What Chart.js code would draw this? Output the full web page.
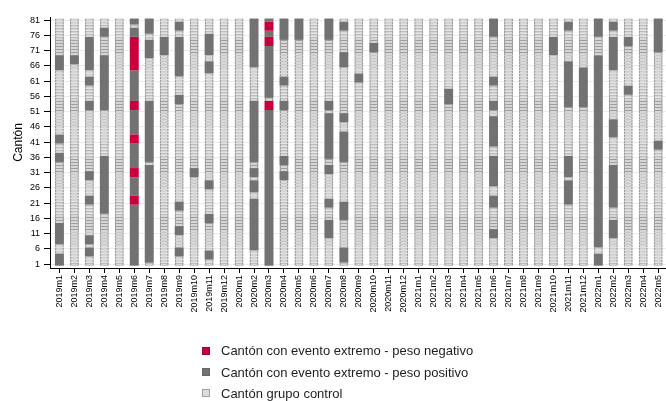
<!DOCTYPE html>
<html>
<head>
<meta charset="utf-8">
<script src="https://cdn.jsdelivr.net/npm/chart.js@4/dist/chart.umd.min.js"></script>
<style>
  html, body { margin: 0; padding: 0; background: #fff; }
  #wrap { position: relative; width: 666px; height: 401px; overflow: hidden; font-family: "Liberation Sans", Arial, sans-serif; }
  #box { position: absolute; left: 0; top: 0; width: 671px; height: 401px; }
  #legend { position: absolute; left: 202px; top: 340px; font-size: 13px; color: #1e1e1e; }
  .item { height: 21.4px; display: flex; align-items: center; white-space: nowrap; }
  .sw { width: 8px; height: 8px; box-sizing: border-box; margin-right: 11px; }
</style>
</head>
<body>
<div id="wrap">
  <div id="box"><canvas id="grid"></canvas></div>
  <div id="legend">
    <div class="item"><span class="sw" style="background:#c8003c;border:1px solid #a8002f"></span>Cantón con evento extremo - peso negativo</div>
    <div class="item"><span class="sw" style="background:#737373;border:1px solid #666"></span>Cantón con evento extremo - peso positivo</div>
    <div class="item"><span class="sw" style="background:#dcdcdc;border:1px solid #a0a0a0"></span>Cantón grupo control</div>
  </div>
</div>
<script>
// ── Data ──
const months = [
  '2019m1', '2019m2', '2019m3', '2019m4', '2019m5', '2019m6', '2019m7', '2019m8', '2019m9', '2019m10', '2019m11', '2019m12',
  '2020m1', '2020m2', '2020m3', '2020m4', '2020m5', '2020m6', '2020m7', '2020m8', '2020m9', '2020m10', '2020m11', '2020m12',
  '2021m1', '2021m2', '2021m3', '2021m4', '2021m5', '2021m6', '2021m7', '2021m8', '2021m9', '2021m10', '2021m11', '2021m12',
  '2022m1', '2022m2', '2022m3', '2022m4', '2022m5'
];

const yTicks = [1, 6, 11, 16, 21, 26, 31, 36, 41, 46, 51, 56, 61, 66, 71, 76, 81];

// cantons (row ranges) with an extreme event, positive weight, per month
const positive = [
  '65-69,41-43,35-37,8-14,1-4', '67-69', '65-75,60-62,52-54,29-31,21-23,8-10,4-6', '76-78,52-69,18-36', '',
  '80-81,76-78,55-64,44-51,33-40,24-29,1-20', '77-81,69-74,35-54,2-33', '70-75', '78-80,63-75,54-56,19-21,11-13,4-6', '30-32',
  '70-76,64-67,26-28,15-17,3-5', '',
  '', '66-81,35-54,30-32,25-28,6-22', '81,76-77,56-72,1-51', '75-81,60-62,52-54,34-36,29-31', '75-81', '',
  '75-81,52-54,36-50,31-33,20-22,10-15', '78-80,66-70,48-50,35-44,16-21,2-6', '61-63', '71-73', '', '',
  '', '', '54-58', '', '', '76-81,60-62,52-54,40-49,27-36,20-23,10-12', '', '', '', '70-75', '78-80,53-67,30-36,21-28', '53-65',
  '76-81,7-69,1-4', '78-80,65-75,43-48,20-33,10-15', '73-75,57-59', '', '71-81,39-41'
];

// cantons with an extreme event, negative weight, per month
const negative = [
  '', '', '', '', '', '65-75,52-54,41-43,30-32,21-23', '', '', '', '', '', '',
  '', '', '78-80,73-75,52-54', '', '', '', '', '', '', '', '', '',
  '', '', '', '', '', '', '', '', '', '', '', '',
  '', '', '', '', ''
];

const nRows = 81;

// Colors
const CONTROL = '#d6d6d6';
const CONTROL_LINE = '#9e9e9e';
const POS = '#727272';
const NEG = '#c8003c';

// "65-69,41-43" -> [[65,69],[41,43]]
function toRuns(s) {
  return s.split(',').filter(Boolean).map(part => {
    const [a, b] = part.split('-').map(Number);
    return [a, b || a];
  });
}

const posRuns = positive.map(toRuns);
const negRuns = negative.map(toRuns);

function isEvent(i, r) {
  return [...posRuns[i], ...negRuns[i]].some(([a, b]) => r >= a && r <= b);
}

const barShape = { grouped: false, barPercentage: 0.6, categoryPercentage: 1, borderSkipped: false };

const datasets = [];

// Event blocks: one floating bar per run, k-th run of each month in dataset k
function addRuns(runs, color) {
  const maxRuns = Math.max(...runs.map(r => r.length));
  for (let k = 0; k < maxRuns; k++) {
    const pts = [];
    months.forEach((m, i) => {
      if (runs[i][k]) pts.push({ x: i, y: [runs[i][k][0] - 0.5, runs[i][k][1] + 0.5] });
    });
    datasets.push({ ...barShape, order: 0, data: pts, backgroundColor: color, borderWidth: 0 });
  }
}
addRuns(negRuns, NEG);
addRuns(posRuns, POS);

// Control cells: one dataset per canton row
for (let r = 1; r <= nRows; r++) {
  const pts = [];
  months.forEach((m, i) => {
    if (!isEvent(i, r)) pts.push({ x: i, y: [r - 0.5, r + 0.5] });
  });
  datasets.push({
    ...barShape,
    order: 1,
    data: pts,
    backgroundColor: CONTROL,
    borderColor: CONTROL_LINE,
    borderWidth: { top: 1, bottom: r === 1 ? 1 : 0, left: 1.5, right: 1.5 }
  });
}

const font = 'Liberation Sans, Arial, sans-serif';

new Chart(document.getElementById('grid'), {
  type: 'bar',
  data: { datasets },
  options: {
    responsive: true,
    maintainAspectRatio: false,
    animation: false,
    events: [],
    layout: { padding: { top: 17, bottom: 73, left: 0, right: 0 } },
    plugins: { legend: { display: false }, tooltip: { enabled: false } },
    scales: {
      x: {
        type: 'linear',
        offset: false,
        min: -0.63,
        max: 40.52,
        afterBuildTicks: s => { s.ticks = months.map((m, i) => ({ value: i })); },
        afterFit: s => { s.height = 60; },
        grid: { offset: false, drawOnChartArea: false, tickLength: 5, tickColor: '#000', color: '#000' },
        border: { color: '#000', width: 1 },
        ticks: {
          autoSkip: false, minRotation: 90, maxRotation: 90, padding: 2,
          color: '#000', font: { size: 9, family: font },
          callback: v => months[v]
        }
      },
      y: {
        min: -0.25,
        max: 82,
        afterBuildTicks: s => { s.ticks = yTicks.map(v => ({ value: v })); },
        afterFit: s => { s.width = 50; },
        grid: { color: '#ececec', tickColor: '#000', tickLength: 6 },
        border: { color: '#000', width: 1 },
        ticks: { padding: 4, color: '#000', font: { size: 9, family: font } },
        title: {
          display: true, text: 'Cantón', color: '#000',
          font: { size: 12, family: font }, padding: { top: 11, bottom: 0 }
        }
      }
    }
  }
});
</script>
</body>
</html>
